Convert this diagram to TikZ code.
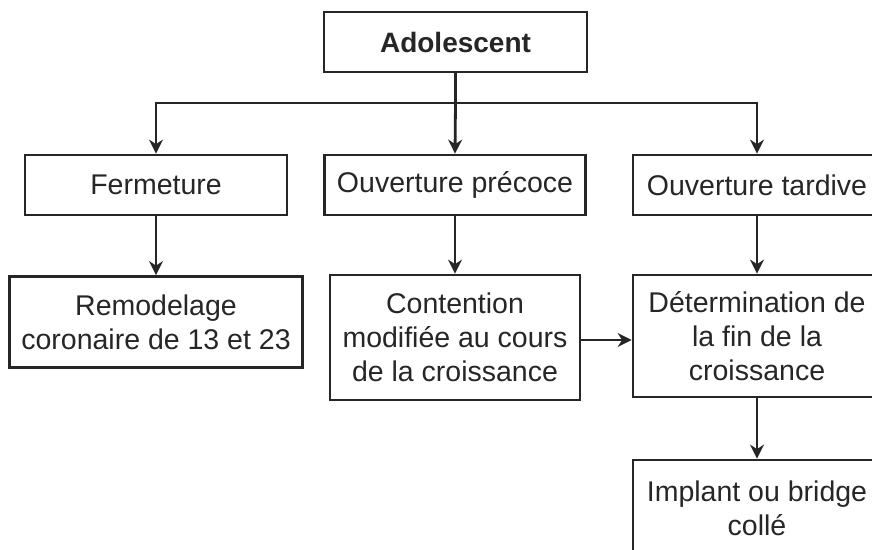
\documentclass[tikz,border=0pt]{standalone}
\usepackage{fontspec}
\setmainfont{Liberation Sans}
\usetikzlibrary{arrows.meta}

\tikzset{
	boite/.style={draw=black!85, line width=2.8pt, inner sep=0pt, align=center,
		text=black!85, font=\fontsize{28.5}{34}\selectfont},
	fleche/.style={draw=black!85, line width=2.8pt, -{Stealth[length=14pt,width=14pt]}}
}

\begin{document}
\begin{tikzpicture}[x=1pt,y=-1pt]
		\clip (0,0) rectangle (872,549);
		\fill[white] (0,0) rectangle (872,549);
		
		\node[boite, minimum width=263, minimum height=60, font=\fontsize{28}{34}\selectfont\bfseries] (ado) at (455.5,42) {Adolescent};
		
		\node[boite, minimum width=262, minimum height=60] (ferm) at (156,185) {Fermeture};
		\node[boite, minimum width=261, minimum height=60] (prec) at (455,185) {Ouverture précoce};
		\node[boite, minimum width=248, minimum height=60] (tard) at (757,185) {Ouverture tardive};
		
		\node[boite, minimum width=293, minimum height=91] (remod) at (156,322) {Remodelage\\coronaire de 13 et 23};
		\node[boite, minimum width=250, minimum height=125] (cont) at (455,337.5) {Contention\\modifiée au cours\\de la croissance};
		\node[boite, minimum width=248, minimum height=122] (determ) at (757,336) {Détermination de\\la fin de la\\croissance};
		\node[boite, minimum width=248, minimum height=96] (impl) at (757,508) {Implant ou bridge\\collé};
		
		\coordinate (bus) at (455.5,103);
		\draw[draw=black!85, line width=2.8pt] (ado.south) -- (bus);
		\draw[fleche] (bus) -| (ferm.north);
		\draw[fleche] (bus) -- (prec.north);
		\draw[fleche] (bus) -| (tard.north);
		
		\draw[fleche] (ferm) -- (remod);
		\draw[fleche] (prec) -- (cont);
		\draw[fleche] (tard) -- (determ);
		\draw[fleche] (cont.east |- 0,340) -- (determ.west |- 0,340);
		\draw[fleche] (determ) -- (impl);
	\end{tikzpicture}
\end{document}
